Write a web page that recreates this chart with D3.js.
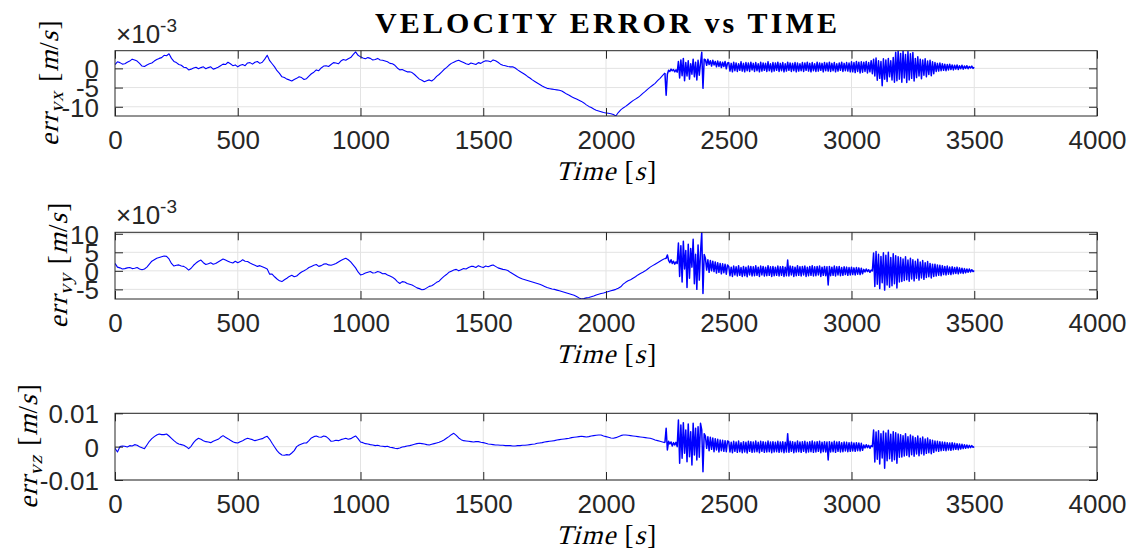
<!DOCTYPE html>
<html>
<head>
<meta charset="utf-8">
<script src="https://cdn.jsdelivr.net/npm/d3@7"></script>
<style>
  html, body { margin: 0; padding: 0; background: #fff; }
  svg { display: block; }
</style>
</head>
<body>
<svg id="chart" width="1136" height="554"></svg>
<script>
// Velocity error components, in units of 1e-3 m/s.
// Slow part: sampled every 10 s from 0 to 2240 s.
// Fast part: sampled every 5 s from 2245 to 3500 s.
const slowTimes = d3.range(0, 2241, 10);
const fastTimes = d3.range(2245, 3501, 5);

const errVxSlow = [
  1.0, 1.7, 1.5, 1.1, 1.2, 1.6, 1.9, 2.4, 2.2, 1.9, 1.3, 0.6, 0.5, 0.9, 1.2, 1.4, 1.9, 2.3, 2.6, 2.8,
  3.4, 3.3, 3.8, 2.6, 1.8, 1.5, 1.0, 0.8, 0.3, 0.2, -0.4, -0.2, 0.1, 0.3, -0.1, 0.2, 0.4, -0.1, 0.2, 0.4,
  -0.2, 0.0, 0.3, 0.7, 1.1, 1.0, 1.6, 1.2, 0.7, 0.9, 0.4, 0.8, 1.0, 0.7, 1.4, 1.5, 1.1, 1.6, 1.8, 1.3,
  1.6, 2.4, 3.4, 2.0, 1.2, 0.4, -0.6, -1.3, -2.2, -2.4, -2.8, -3.0, -3.3, -2.9, -2.6, -2.2, -2.4, -2.9, -2.7, -2.0,
  -1.4, -1.0, -0.4, -0.6, 0.1, 0.6, 0.7, 0.5, 1.0, 1.5, 1.4, 1.2, 1.9, 2.3, 2.1, 2.5, 2.8, 3.6, 4.3, 3.4,
  3.0, 2.7, 2.5, 2.8, 2.6, 2.2, 2.3, 2.6, 2.2, 2.1, 1.9, 1.7, 1.3, 1.2, 0.8, 0.1, -0.4, -0.3, -0.6, -0.9,
  -0.9, -1.1, -1.6, -2.2, -2.8, -3.1, -3.5, -3.2, -3.0, -3.3, -2.8, -2.1, -1.6, -1.0, -0.3, 0.2, 0.8, 1.3, 1.6, 1.9,
  2.1, 1.8, 1.5, 1.2, 1.0, 1.4, 1.2, 1.0, 1.5, 1.3, 1.7, 2.0, 1.9, 1.7, 2.2, 2.0, 1.6, 1.1, 0.8, 0.7,
  0.5, 0.4, 0.4, 0.1, -0.4, -0.8, -1.2, -1.6, -2.1, -2.5, -3.0, -3.4, -3.8, -4.2, -4.6, -4.9, -5.2, -5.3, -5.4, -5.5,
  -5.6, -5.7, -5.9, -6.3, -6.7, -7.0, -7.4, -7.7, -8.0, -8.3, -8.6, -9.0, -9.5, -9.9, -10.2, -10.6, -10.9, -11.1, -11.3, -11.5,
  -11.6, -11.7, -11.8, -12.0, -12.4, -11.5, -10.8, -10.3, -9.9, -9.4, -8.9, -8.4, -8.0, -7.6, -7.1, -6.5, -6.0, -5.4, -4.9, -4.4,
  -3.9, -3.2, -2.6, -1.9, -1.2
];
const errVxFast = [
  -7.0, -1.5, -0.5, -0.8, -0.2, -0.6, -0.3, -0.9, -0.4, -1.0,
  1.8, -2.5, 2.2, -1.9, 2.6, -3.2, 1.5, -2.0, 2.0, -2.8, 1.2, -1.5, 2.4, -2.2, 1.6, -3.0, 2.1, -1.8, 1.4,
  4.2, -5.2, 2.4,
  2.2, 0.8, 2.4, 1.0, 2.0, 0.6, 2.1, 0.9, 1.8, 0.4, 1.9, 0.5, 1.7, 0.2, 1.6, 0.5, 1.8, -0.1, 1.4,
  1.5, -0.7, 1.3, -0.9, 1.6, -0.6, 1.4, -0.8, 1.2, -0.5, 1.7, -0.7, 1.3, -0.9, 1.5, -0.6, 1.4, -0.8, 1.6, -0.4,
  1.3, -0.8, 1.5, -0.6, 1.2, -0.9, 1.6, -0.7, 1.4, -0.5, 1.3, -0.8, 1.7, -0.6, 1.2, -0.9, 1.5, -0.7, 1.4, -0.5,
  1.6, -0.8, 1.3, -0.6, 1.5, -0.9, 1.2, -0.7, 1.6, -0.5, 1.4, -0.8, 1.3, -0.6, 1.5, -0.9, 1.4, -0.7, 1.2, -0.6,
  1.5, -0.8, 1.4, -0.5, 1.6, -0.7, 1.3, -0.9, 1.5, -0.6, 1.2, -0.8, 1.6, -0.7, 1.4, -0.5, 1.3, -0.9, 1.5, -0.6,
  1.4, -0.7, 1.6, -0.8, 1.3, -0.6, 1.5, -0.9, 1.2, -0.7, 1.4, -0.5, 1.6, -0.8, 1.3, -0.6, 1.5, -0.7, 1.4, -0.9,
  1.7, -0.9, 1.5, -1.1, 1.8, -0.8, 1.6, -1.2, 1.7, -1.0,
  1.6, -0.8, 1.8, -1.2, 1.5, -0.9, 2.0, -1.4,
  2.4, -2.0, 2.7, -3.1, 2.0, -2.6, 1.8, -4.5, 2.5, -2.8, 2.2, -3.4, 2.6, -2.2, 2.0, -3.0, 2.8, -3.6,
  4.2, -3.2, 4.6, -2.8, 3.9, -3.6, 4.5, -2.5, 3.6, -3.7, 4.4, -3.0, 3.8, -2.6, 4.1, -3.3,
  2.6, -2.4, 3.0, -2.0, 2.4, -2.7, 2.2, -1.8, 2.5, -2.2, 1.9, -1.6, 2.1, -1.9, 1.7, -1.4,
  1.5, -0.8, 1.3, -0.7, 1.4, -0.6, 1.2, -0.5, 1.1, -0.6, 1.0, -0.4, 1.1, -0.3, 0.9, -0.4, 0.8, -0.2, 0.9, -0.3,
  0.7, -0.1, 0.8, -0.2, 0.6, 0.0, 0.7, -0.1, 0.5, 0.1, 0.6, 0.0, 0.3
];

const errVySlow = [
  2.0, 1.0, 0.8, 0.5, 0.6, 0.8, 0.9, 0.6, 0.7, 0.9, 0.5, 0.3, 0.5, 1.0, 1.8, 2.6, 3.0, 3.4, 3.6, 3.8,
  4.0, 3.9, 3.2, 2.0, 1.3, 1.5, 1.6, 1.3, 1.2, 0.8, 0.2, 0.7, 1.5, 2.1, 2.6, 2.9, 2.2, 1.7, 1.9, 2.2,
  1.8, 2.0, 2.4, 2.8, 3.2, 2.9, 2.6, 2.3, 2.1, 2.6, 2.2, 2.5, 3.0, 2.6, 2.5, 2.1, 1.8, 1.5, 1.2, 1.4,
  1.1, 0.8, 0.5, -0.9, -0.9, -1.6, -2.2, -2.7, -2.9, -2.4, -2.0, -1.5, -1.2, -1.6, -1.4, -0.8, -0.3, 0.0, 0.4, 0.9,
  1.2, 1.5, 1.7, 1.2, 1.4, 1.8, 1.9, 1.6, 1.5, 1.7, 2.0, 2.4, 2.8, 3.1, 3.4, 3.0, 2.4, 1.6, 0.8, -0.3,
  -1.1, -0.9, -0.6, -0.4, -0.2, -0.6, -0.5, -0.2, -0.4, -0.8, -0.7, -1.1, -1.4, -1.7, -2.2, -2.9, -3.4, -2.9, -3.0, -3.4,
  -3.6, -3.8, -4.2, -4.6, -4.8, -5.1, -5.0, -4.6, -4.2, -4.0, -3.6, -3.1, -2.8, -2.1, -1.5, -1.0, -0.4, -0.1, 0.2, 0.4,
  0.0, 0.3, 0.6, 0.5, 0.9, 1.2, 1.2, 0.9, 1.4, 1.1, 0.9, 1.3, 1.1, 1.4, 1.6, 1.2, 0.8, 0.6, 0.4, 0.3,
  0.1, -0.4, -0.8, -1.2, -1.6, -1.9, -2.2, -2.4, -2.6, -2.8, -3.0, -3.2, -3.4, -3.6, -3.9, -4.2, -4.5, -4.7, -4.9, -5.0,
  -5.2, -5.4, -5.6, -5.8, -6.0, -6.2, -6.4, -6.6, -6.9, -7.3, -7.6, -7.5, -7.3, -7.2, -7.0, -6.8, -6.5, -6.3, -6.1, -6.0,
  -5.8, -5.6, -5.4, -5.2, -5.0, -4.7, -4.3, -3.6, -3.1, -2.7, -2.4, -2.0, -1.6, -1.1, -0.7, -0.4, 0.0, 0.5, 1.0, 1.4,
  1.8, 2.2, 2.6, 3.0, 3.3
];
const errVyFast = [
  3.4, 4.3, 2.8, 2.2, 3.0, 2.0, 2.6, 1.8, 2.4, 2.0,
  7.5, -1.5, 6.8, -3.0, 8.0, 0.5, 5.5, -4.5, 7.2, -2.0, 6.0, 1.0, 8.5, -3.5, 4.5, -5.0, 7.0, -2.5, 5.0,
  10.4, -6.1, 4.4,
  3.4, 0.2, 3.0, -0.4, 2.8, 0.0, 2.6, -0.2, 2.4, -0.6, 2.2, -0.4, 2.0, -0.8, 1.9, -0.5, 1.8, -0.9, 1.6,
  1.2, -1.3, 1.0, -1.5, 1.3, -1.1, 1.1, -1.4, 1.4, -1.2, 0.9, -1.5, 1.2, -1.3, 1.0, -1.6, 1.3, -1.1, 1.2, -1.4,
  1.1, -1.3, 1.4, -1.2, 1.0, -1.5, 1.3, -1.1, 1.2, -1.4, 1.0, -1.3, 1.4, -1.2, 1.1, -1.5, 1.2, -1.3, 1.0, -1.2,
  1.3, -1.4, 1.1, -1.2, 1.2, -1.5, 1.0, -1.3, 2.9, -1.4, 1.3, -1.1, 1.2, -1.5, 1.0, -1.3, 1.4, -1.2, 1.1, -1.4,
  1.2, -1.1, 1.3, -1.5, 1.0, -1.3, 1.2, -1.2, 1.4, -1.4, 1.1, -1.3, 1.2, -1.1, 1.3, -1.5, 1.0, -1.2, 1.2, -1.3,
  1.1, -3.8, 1.2, -1.3, 1.0, -1.2, 1.3, -1.4, 1.1, -1.1, 1.2, -1.3, 0.9, -1.2, 1.1, -1.0, 1.0, -1.2, 0.9, -1.1,
  1.0, -1.0, 0.8, -1.1, 0.9, -0.9, 0.8, -1.0, 0.7, -0.8,
  0.4, -0.3, 0.5, -0.2, 0.3, -0.4, 0.2, 0.0,
  4.8, -4.2, 5.2, -3.6, 4.5, -4.8, 3.9, -3.2, 4.9, -5.2, 4.2, -3.8, 5.0, -4.4, 3.6, -4.0, 4.6, -3.5, 4.1, -4.6, 3.8, -3.0,
  3.6, -2.9, 3.2, -2.6, 3.8, -2.4, 2.9, -2.8, 3.4, -2.2, 3.0, -2.7, 2.6, -2.0, 3.1, -2.5, 2.4, -1.9, 2.8, -2.3,
  2.2, -1.8, 2.5, -1.6, 2.0, -1.9, 1.8, -1.5,
  1.8, -1.4, 1.6, -1.2, 1.5, -1.3, 1.4, -1.0, 1.2, -1.1, 1.3, -0.9, 1.0, -1.0, 1.1, -0.8, 0.9, -0.7, 1.0, -0.8,
  0.8, -0.6, 0.7, -0.7, 0.6, -0.5, 0.5, -0.4, 0.5, -0.3, 0.3, -0.2, 0.1
];

const errVzSlow = [
  -0.5, -1.6, 0.0, 0.2, 0.1, -0.1, 0.3, 0.2, 0.6, 0.4, 0.0, -0.3, -0.6, 0.5, 1.6, 2.4, 3.0, 3.5, 3.8, 3.6,
  3.6, 3.8, 3.2, 2.5, 1.8, 1.2, 0.8, 0.6, 0.4, 0.0, -0.6, 0.1, 1.2, 2.0, 2.5, 2.2, 1.8, 1.5, 1.4, 1.2,
  1.6, 1.9, 2.2, 2.8, 3.3, 2.8, 2.4, 1.9, 1.5, 1.2, 1.1, 1.5, 1.8, 2.2, 2.5, 2.3, 2.1, 1.8, 2.0, 2.2,
  2.4, 2.8, 3.1, 2.2, 1.0, -0.1, -1.2, -2.0, -2.5, -2.6, -2.4, -2.5, -1.9, -1.2, 0.0, 0.5, 0.8, 1.1, 1.1, 1.8,
  2.6, 3.0, 3.2, 2.9, 2.8, 3.2, 3.0, 2.4, 1.6, 1.7, 1.9, 1.8, 2.1, 2.3, 2.5, 2.2, 2.4, 2.8, 3.2, 2.4,
  1.4, 1.2, 0.9, 0.8, 0.6, 0.5, 0.3, 0.4, 0.2, 0.1, 0.0, 0.1, -0.2, -0.3, -0.5, -0.6, -0.4, -0.1, 0.0, 0.2,
  0.3, 0.5, 0.7, 0.9, 1.0, 0.9, 0.8, 0.6, 0.5, 0.7, 0.9, 1.1, 1.3, 1.6, 2.0, 2.5, 3.0, 3.6, 4.0, 3.4,
  2.6, 2.1, 1.8, 1.7, 1.6, 1.5, 1.4, 1.5, 1.5, 1.3, 1.2, 1.0, 0.8, 0.7, 0.6, 0.5, 0.5, 0.4, 0.4, 0.3,
  0.3, 0.3, 0.2, 0.2, 0.3, 0.3, 0.4, 0.4, 0.5, 0.6, 0.7, 0.8, 1.0, 1.1, 1.2, 1.4, 1.5, 1.6, 1.7, 1.8,
  2.0, 2.1, 2.2, 2.3, 2.4, 2.5, 2.7, 2.8, 2.9, 3.0, 3.1, 3.0, 2.9, 3.0, 3.2, 3.3, 3.4, 3.5, 3.5, 3.2,
  3.0, 2.8, 2.6, 2.5, 2.7, 3.0, 3.3, 3.5, 3.5, 3.4, 3.3, 3.2, 3.1, 3.0, 2.9, 2.8, 2.7, 2.6, 2.5, 2.3,
  2.0, 1.8, 1.6, 1.4, 1.2
];
const errVzFast = [
  5.5, -1.0, 1.6, 0.8, 1.4, 0.2, 1.2, 0.5, 1.3, 0.0,
  8.0, -5.0, 6.5, -3.5, 7.2, -2.0, 5.0, -4.5, 6.8, -3.0, 4.5, -5.5, 7.0, -2.5, 5.5, -4.0, 6.0, -3.2, 7.0,
  5.0, -7.5, 3.9,
  3.2, -0.5, 3.0, -1.2, 2.8, -0.8, 2.6, -1.5, 2.4, -1.0, 2.2, -1.6, 2.0, -1.2, 1.9, -1.4, 1.8, -1.5, 1.7,
  1.5, -1.6, 1.3, -1.8, 1.6, -1.4, 1.4, -1.7, 1.7, -1.5, 1.2, -1.8, 1.5, -1.6, 1.3, -1.9, 1.6, -1.4, 1.5, -1.7,
  1.4, -1.6, 1.7, -1.5, 1.3, -1.8, 1.6, -1.4, 1.5, -1.7, 1.3, -1.6, 1.7, -1.5, 1.4, -1.8, 1.5, -1.6, 1.3, -1.5,
  1.6, -1.7, 1.4, -1.5, 1.5, -1.8, 1.3, -1.6, 3.9, -1.7, 1.6, -1.4, 1.5, -1.8, 1.3, -1.6, 1.7, -1.5, 1.4, -1.7,
  1.5, -1.4, 1.6, -1.8, 1.3, -1.6, 1.5, -1.5, 1.7, -1.7, 1.4, -1.6, 1.5, -1.4, 1.6, -1.8, 1.3, -1.5, 1.5, -1.6,
  1.4, -4.0, 1.5, -1.6, 1.3, -1.5, 1.6, -1.7, 1.4, -1.4, 1.5, -1.6, 1.2, -1.5, 1.4, -1.3, 1.3, -1.5, 1.2, -1.4,
  1.3, -1.3, 1.1, -1.4, 1.2, -1.2, 1.1, -1.3, 1.0, -1.1,
  0.5, -0.4, 0.6, -0.3, 0.4, -0.5, 0.3, 0.0,
  5.0, -4.6, 4.4, -3.8, 4.8, -5.2, 3.9, -3.4, 4.6, -6.5, 4.1, -4.2, 4.9, -3.6, 3.7, -4.4, 4.5, -3.9, 4.2, -5.0, 3.8, -3.2,
  3.6, -3.1, 3.3, -2.8, 3.9, -2.6, 3.0, -3.0, 3.5, -2.4, 3.1, -2.9, 2.7, -2.2, 3.2, -2.7, 2.5, -2.1, 2.9, -2.5,
  2.3, -2.0, 2.6, -1.8, 2.1, -2.1, 1.9, -1.7,
  1.7, -1.3, 1.6, -1.4, 1.5, -1.2, 1.4, -1.1, 1.3, -1.2, 1.2, -1.0, 1.1, -1.1, 1.2, -0.9, 1.0, -0.8, 0.9, -0.9,
  0.8, -0.7, 0.7, -0.6, 0.6, -0.5, 0.5, -0.4, 0.4, -0.3, 0.3, -0.2, 0.0
];

// Axis settings
const xTicks = [0, 500, 1000, 1500, 2000, 2500, 3000, 3500, 4000];
const xLimits = [0, 4000];
const vxLimits = [-12.4, 4.6];
const vyLimits = [-7.6, 10.4];
const vzLimits = [-10, 10];
const vxTicks = [-10, -5, 0];
const vyTicks = [-5, 0, 5, 10];
const vzTicks = [-10, 0, 10];
const vzTickLabels = ["-0.01", "0", "0.01"];

const titleText = "VELOCITY ERROR vs TIME";

// ---- layout ----
const svg = d3.select("#chart");
const left = 115, right = 1097;
const panels = [
  { top: 50.7, bottom: 116, slow: errVxSlow, fast: errVxFast, limits: vxLimits, ticks: vxTicks,
    fmt: d => String(d), sub: "vx", exponent: true, labelX: 58 },
  { top: 232.3, bottom: 299, slow: errVySlow, fast: errVyFast, limits: vyLimits, ticks: vyTicks,
    fmt: d => String(d), sub: "vy", exponent: true, labelX: 67 },
  { top: 413.3, bottom: 480, slow: errVzSlow, fast: errVzFast, limits: vzLimits, ticks: vzTicks,
    fmt: d => vzTickLabels[vzTicks.indexOf(d)], sub: "vz", exponent: false, labelX: 37 }
];

const axisColor = "#262626";
const gridColor = "#e3e3e3";
const sansFont = "'Liberation Sans', Arial, Helvetica, sans-serif";
const serifFont = "'Liberation Serif', 'Times New Roman', serif";
const tickLen = 8;

const x = d3.scaleLinear().domain(xLimits).range([left, right]);

// Math-style label: pieces laid out one after another, italic pieces slanted.
function mathLabel(parent, pieces, size, px, py, vertical) {
  const outer = parent.append("g")
    .attr("transform", `translate(${px},${py})` + (vertical ? " rotate(-90)" : ""));
  const inner = outer.append("g");
  let cursor = 0;
  pieces.forEach(pc => {
    cursor += pc.before || 0;
    const fs = size * (pc.scale || 1);
    const t = inner.append("text")
      .attr("font-family", serifFont)
      .attr("font-size", fs)
      .attr("fill", "#000")
      .attr("letter-spacing", pc.italic ? 1.2 : 0)
      .text(pc.t);
    const w = t.node().getComputedTextLength();
    const dy = (pc.dy || 0) * size;
    t.attr("transform", `translate(${cursor},${dy})` + (pc.italic ? " skewX(-15)" : ""));
    cursor += w + (pc.after || 0);
  });
  inner.attr("transform", `translate(${-cursor / 2},0)`);
}

svg.append("text")
  .attr("x", (left + right) / 2)
  .attr("y", 33)
  .attr("text-anchor", "middle")
  .attr("font-family", serifFont)
  .attr("font-weight", "bold")
  .attr("font-size", 30)
  .attr("textLength", 462)
  .attr("lengthAdjust", "spacing")
  .attr("fill", "#000")
  .text(titleText);

panels.forEach((p, k) => {
  const y = d3.scaleLinear().domain(p.limits).range([p.bottom, p.top]);
  const g = svg.append("g");
  const clipId = "clip" + k;
  svg.append("clipPath").attr("id", clipId)
    .append("rect").attr("x", left).attr("y", p.top)
    .attr("width", right - left).attr("height", p.bottom - p.top);

  // grid
  const grid = g.append("g").attr("stroke", gridColor).attr("stroke-width", 1);
  grid.selectAll("line.gx").data(xTicks.slice(1, -1)).join("line")
    .attr("x1", d => x(d)).attr("x2", d => x(d))
    .attr("y1", p.top).attr("y2", p.bottom);
  grid.selectAll("line.gy").data(p.ticks).join("line")
    .attr("x1", left).attr("x2", right)
    .attr("y1", d => y(d)).attr("y2", d => y(d));

  // data line: slow drift, then the fast oscillating part
  const slowPts = p.slow.map((v, i) => [slowTimes[i], v]);
  const fastPts = [slowPts[slowPts.length - 1]].concat(p.fast.map((v, i) => [fastTimes[i], v]));
  const line = d3.line().x(d => x(d[0])).y(d => y(d[1]));
  const plotArea = g.append("g").attr("clip-path", `url(#${clipId})`)
    .attr("fill", "none").attr("stroke", "#0000ff").attr("stroke-linejoin", "round");
  plotArea.append("path").attr("d", line(slowPts)).attr("stroke-width", 1.1);
  plotArea.append("path").attr("d", line(fastPts)).attr("stroke-width", 1.5);

  // axes with inward ticks on all four sides
  const xb = d3.axisBottom(x).tickValues(xTicks).tickSize(-tickLen).tickPadding(14).tickFormat(d => String(d));
  const xt = d3.axisTop(x).tickValues(xTicks).tickSize(-tickLen).tickFormat("");
  const yl = d3.axisLeft(y).tickValues(p.ticks).tickSize(-tickLen).tickPadding(16).tickFormat(p.fmt);
  const yr = d3.axisRight(y).tickValues(p.ticks).tickSize(-tickLen).tickFormat("");

  const styleAxis = sel => {
    sel.select(".domain").remove();
    sel.selectAll(".tick line").attr("stroke", axisColor);
    sel.selectAll(".tick text").attr("fill", axisColor)
      .attr("font-family", sansFont).attr("font-size", 26);
  };
  g.append("g").attr("transform", `translate(0,${p.bottom})`).call(xb).call(styleAxis)
    .selectAll(".tick text").attr("dy", "0.72em");
  g.append("g").attr("transform", `translate(0,${p.top})`).call(xt).call(styleAxis);
  g.append("g").attr("transform", `translate(${left},0)`).call(yl).call(styleAxis)
    .selectAll(".tick text").attr("dy", "0.36em");
  g.append("g").attr("transform", `translate(${right},0)`).call(yr).call(styleAxis);

  g.append("rect")
    .attr("x", left).attr("y", p.top)
    .attr("width", right - left).attr("height", p.bottom - p.top)
    .attr("fill", "none").attr("stroke", axisColor).attr("stroke-width", 1);

  // exponent marker
  if (p.exponent) {
    const ex = g.append("text")
      .attr("x", left + 1).attr("y", p.top - 8)
      .attr("font-family", sansFont).attr("font-size", 26).attr("fill", axisColor);
    ex.append("tspan").text("\u00d710");
    ex.append("tspan").attr("font-size", 19).attr("dy", -11).text("-3");
  }

  // x label: Time [s]
  mathLabel(g, [
    { t: "Time", italic: true, after: 8 },
    { t: "[" },
    { t: "s", italic: true, before: 1, after: 1 },
    { t: "]" }
  ], 27, (left + right) / 2, p.bottom + 63.5, false);

  // y label: err_v? [m/s]
  mathLabel(g, [
    { t: "err", italic: true },
    { t: p.sub, italic: true, scale: 0.72, dy: 0.2, after: 9 },
    { t: "[" },
    { t: "m", italic: true, before: 1 },
    { t: "/" },
    { t: "s", italic: true, after: 1 },
    { t: "]" }
  ], 27, p.labelX, (p.top + p.bottom) / 2, true);
});
</script>
</body>
</html>
